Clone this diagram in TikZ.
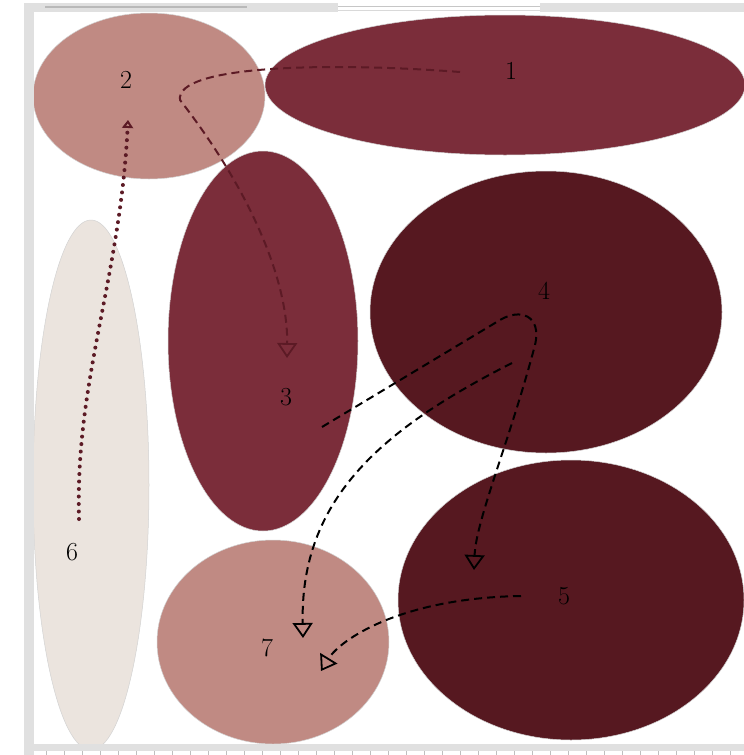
\documentclass[tikz,border=0pt]{standalone}
\usetikzlibrary{arrows.meta}

\definecolor{bordeaux}{HTML}{7B2D3A}
\definecolor{rosevieux}{HTML}{C08A83}
\definecolor{lie}{HTML}{561820}
\definecolor{lin}{HTML}{EBE4DE}
\definecolor{cadre}{HTML}{E0E0E0}
\definecolor{trait}{HTML}{5C1A25}

\begin{document}
\begin{tikzpicture}[x=1pt,y=-1pt,
        zone/.style={draw=gray!35, line width=0.5pt},
        chiffre/.style={font=\fontsize{26}{30}\selectfont},
        fleche/.style={line width=2pt, dash pattern=on 8pt off 5pt,
            -{Triangle[open,length=15pt,width=20pt,line width=1.8pt]}},
        pointille/.style={trait, line width=4pt, line cap=round, dash pattern=on 0pt off 7.5pt,
            -{Triangle[open,length=8pt,width=11pt,line width=2.5pt]}}]
        \useasboundingbox (0,0) rectangle (744,755);

        % Les sept zones
        \path[zone, fill=bordeaux] (505,85) ellipse [x radius=240, y radius=70];
        \path[zone, fill=rosevieux] (149,96) ellipse [x radius=116, y radius=83];
        \path[zone, fill=bordeaux] (263,341) ellipse [x radius=95, y radius=190];
        \path[zone, fill=lie] (546,312) ellipse [x radius=176, y radius=141];
        \path[zone, fill=lie] (571,600) ellipse [x radius=173, y radius=140];
        \path[zone, fill=lin] (91,485) ellipse [x radius=58, y radius=265];
        \path[zone, fill=rosevieux] (273,642) ellipse [x radius=116, y radius=102];

        % Cadre
        \fill[cadre] (24,3) rectangle (34,755);
        \fill[cadre] (24,3) rectangle (338,12);
        \fill[cadre] (540,3) rectangle (744,12);
        \draw[gray!55, line width=2pt] (45,7) -- (247,7);
        \draw[gray!45, line width=1pt] (338,6) -- (540,6);
        \draw[gray!30, line width=1pt] (338,10) -- (540,10);
        \fill[cadre] (24,744) rectangle (744,751);
        \foreach \x in {46,64,...,744}
            \draw[gray!50, line width=0.4pt] (\x,751) -- (\x,755);

        % Numeros
        \node[chiffre] (n1) at (511,71) {1};
        \node[chiffre] (n2) at (126,80) {2};
        \node[chiffre] (n3) at (286,397) {3};
        \node[chiffre] (n4) at (544,291) {4};
        \node[chiffre] (n5) at (564,596) {5};
        \node[chiffre] (n6) at (72,552) {6};
        \node[chiffre] (n7) at (267,648) {7};

        % Departs et arrivees
        \coordinate (d1) at (460,72);
        \coordinate (a3) at (287,358);
        \coordinate (d6) at (79,519);
        \coordinate (a2) at (128,120);
        \coordinate (d3) at (322,427);
        \coordinate (a5) at (474,570);
        \coordinate (d4) at (512,363);
        \coordinate (a7) at (303,638);
        \coordinate (d5) at (521,596);
        \coordinate (b7) at (321,671);

        % Fleches
        \draw[fleche, trait] (d1) .. controls (330,62) and (175,65) .. (180,100)
            .. controls (250,190) and (288,280) .. (a3);
        \draw[pointille] (d6) .. controls (75,380) and (120,280) .. (a2);
        \draw[fleche] (d3) -- (500,320) .. controls (520,308) and (542,315) .. (535,345)
            .. controls (510,440) and (476,520) .. (a5);
        \draw[fleche] (d4) .. controls (380,430) and (300,500) .. (a7);
        \draw[fleche] (d5) .. controls (400,598) and (340,640) .. (b7);
    \end{tikzpicture}
\end{document}
